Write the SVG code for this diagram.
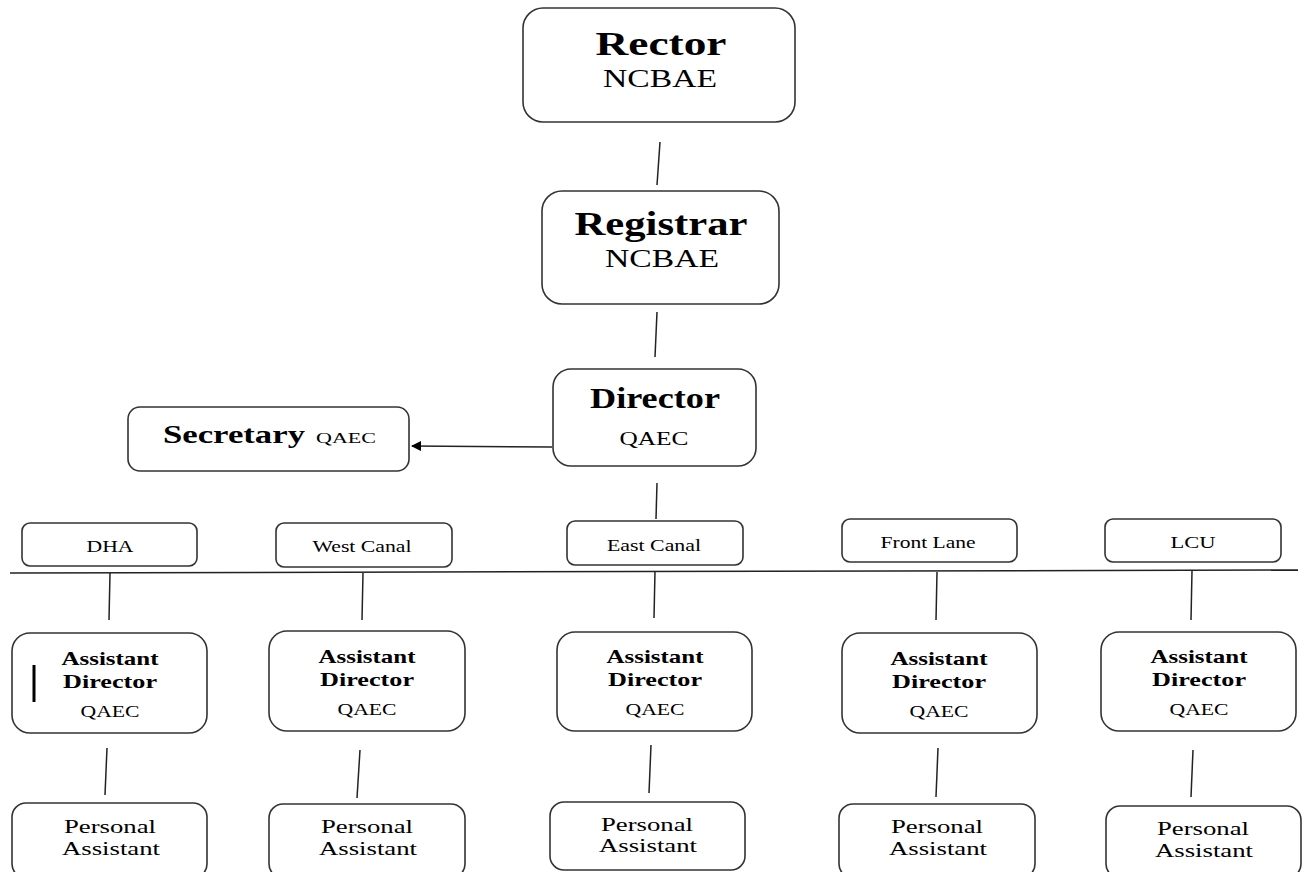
<svg xmlns="http://www.w3.org/2000/svg" width="1310" height="872" viewBox="0 0 1310 872">
<style>
.box{fill:#fff;stroke:#333;stroke-width:1.6}
.ln{stroke:#222;stroke-width:1.5;fill:none}
text{font-family:"Liberation Serif","Times New Roman",serif;fill:#000;text-anchor:middle}
.big{font-weight:bold;font-size:34px}
.org{font-size:25px}
.sm{font-size:17px}
.ad{font-weight:bold;font-size:19px}
.q{font-size:16px}
.pa{font-size:19px}
</style>
<defs>
<marker id="ah" markerWidth="10" markerHeight="10" refX="9" refY="5" orient="auto" markerUnits="userSpaceOnUse">
<path d="M0,0 L10,5 L0,10 Z" fill="#000"/>
</marker>
</defs>
<rect width="1310" height="872" fill="#fff"/>
<g id="connectors">
<line class="ln" x1="660" y1="142" x2="657" y2="185"/>
<line class="ln" x1="657" y1="312" x2="655" y2="357"/>
<line class="ln" x1="552" y1="447" x2="412" y2="446" marker-end="url(#ah)"/>
<line class="ln" x1="657" y1="483" x2="656" y2="519"/>
<line class="ln" x1="10" y1="573" x2="1298" y2="570"/>
<line class="ln" x1="110" y1="573" x2="109" y2="620"/>
<line class="ln" x1="363" y1="573" x2="362" y2="620"/>
<line class="ln" x1="655" y1="571" x2="654" y2="618"/>
<line class="ln" x1="937" y1="572" x2="936" y2="620"/>
<line class="ln" x1="1192" y1="571" x2="1191" y2="620"/>
<line class="ln" x1="107" y1="748" x2="105" y2="795"/>
<line class="ln" x1="360" y1="750" x2="357" y2="798"/>
<line class="ln" x1="651" y1="745" x2="649" y2="793"/>
<line class="ln" x1="938" y1="748" x2="936" y2="797"/>
<line class="ln" x1="1193" y1="750" x2="1191" y2="797"/>
</g>
<g id="rector">
<rect class="box" x="523" y="8" width="272" height="114" rx="20"/>
<text class="big" x="661" y="55" textLength="131" lengthAdjust="spacingAndGlyphs">Rector</text>
<text class="org" x="660" y="87" textLength="114" lengthAdjust="spacingAndGlyphs">NCBAE</text>
</g>
<g id="registrar">
<rect class="box" x="542" y="191" width="237" height="113" rx="20"/>
<text class="big" x="661" y="235" textLength="173" lengthAdjust="spacingAndGlyphs">Registrar</text>
<text class="org" x="662" y="267" textLength="114" lengthAdjust="spacingAndGlyphs">NCBAE</text>
</g>
<g id="director">
<rect class="box" x="553" y="369" width="203" height="97" rx="18"/>
<text class="big" x="655" y="408" style="font-size:29px" textLength="130" lengthAdjust="spacingAndGlyphs">Director</text>
<text x="654" y="445" style="font-size:19px" textLength="69" lengthAdjust="spacingAndGlyphs">QAEC</text>
</g>
<g id="secretary">
<rect class="box" x="128" y="407" width="281" height="64" rx="12"/>
<text x="163" y="443" style="text-anchor:start;font-weight:bold;font-size:25px" textLength="142" lengthAdjust="spacingAndGlyphs">Secretary</text>
<text x="316" y="443" style="text-anchor:start;font-size:15px" textLength="60" lengthAdjust="spacingAndGlyphs">QAEC</text>
</g>
<g id="dha">
<rect class="box" x="22" y="523" width="175" height="43" rx="8"/>
<text class="sm" x="110" y="552" textLength="47" lengthAdjust="spacingAndGlyphs">DHA</text>
</g>
<g id="westcanal">
<rect class="box" x="276" y="523" width="176" height="44" rx="8"/>
<text class="sm" x="362" y="552" textLength="99" lengthAdjust="spacingAndGlyphs">West Canal</text>
</g>
<g id="eastcanal">
<rect class="box" x="567" y="521" width="176" height="44" rx="8"/>
<text class="sm" x="654" y="551" textLength="94" lengthAdjust="spacingAndGlyphs">East Canal</text>
</g>
<g id="frontlane">
<rect class="box" x="842" y="519" width="175" height="43" rx="8"/>
<text class="sm" x="928" y="548" textLength="95" lengthAdjust="spacingAndGlyphs">Front Lane</text>
</g>
<g id="lcu">
<rect class="box" x="1105" y="519" width="176" height="43" rx="8"/>
<text class="sm" x="1193" y="548" textLength="45" lengthAdjust="spacingAndGlyphs">LCU</text>
</g>
<g id="ad1">
<rect class="box" x="12" y="633" width="195" height="100" rx="18"/>
<line x1="34" y1="665" x2="34" y2="702" stroke="#000" stroke-width="3"/>
<text class="ad" x="110" y="665" textLength="97" lengthAdjust="spacingAndGlyphs">Assistant</text>
<text class="ad" x="110" y="688" textLength="94" lengthAdjust="spacingAndGlyphs">Director</text>
<text class="q" x="110" y="717" textLength="59" lengthAdjust="spacingAndGlyphs">QAEC</text>
</g>
<g id="ad2">
<rect class="box" x="269" y="631" width="196" height="100" rx="18"/>
<text class="ad" x="367" y="663" textLength="97" lengthAdjust="spacingAndGlyphs">Assistant</text>
<text class="ad" x="367" y="686" textLength="94" lengthAdjust="spacingAndGlyphs">Director</text>
<text class="q" x="367" y="715" textLength="59" lengthAdjust="spacingAndGlyphs">QAEC</text>
</g>
<g id="ad3">
<rect class="box" x="557" y="632" width="195" height="99" rx="18"/>
<text class="ad" x="655" y="663" textLength="97" lengthAdjust="spacingAndGlyphs">Assistant</text>
<text class="ad" x="655" y="686" textLength="94" lengthAdjust="spacingAndGlyphs">Director</text>
<text class="q" x="655" y="715" textLength="59" lengthAdjust="spacingAndGlyphs">QAEC</text>
</g>
<g id="ad4">
<rect class="box" x="842" y="633" width="195" height="100" rx="18"/>
<text class="ad" x="939" y="665" textLength="97" lengthAdjust="spacingAndGlyphs">Assistant</text>
<text class="ad" x="939" y="688" textLength="94" lengthAdjust="spacingAndGlyphs">Director</text>
<text class="q" x="939" y="717" textLength="59" lengthAdjust="spacingAndGlyphs">QAEC</text>
</g>
<g id="ad5">
<rect class="box" x="1101" y="632" width="195" height="99" rx="18"/>
<text class="ad" x="1199" y="663" textLength="97" lengthAdjust="spacingAndGlyphs">Assistant</text>
<text class="ad" x="1199" y="686" textLength="94" lengthAdjust="spacingAndGlyphs">Director</text>
<text class="q" x="1199" y="715" textLength="59" lengthAdjust="spacingAndGlyphs">QAEC</text>
</g>
<g id="pa1">
<rect class="box" x="12" y="803" width="195" height="75" rx="14"/>
<text class="pa" x="110" y="833" textLength="92" lengthAdjust="spacingAndGlyphs">Personal</text>
<text class="pa" x="111" y="855" textLength="98" lengthAdjust="spacingAndGlyphs">Assistant</text>
</g>
<g id="pa2">
<rect class="box" x="269" y="804" width="196" height="74" rx="14"/>
<text class="pa" x="367" y="833" textLength="92" lengthAdjust="spacingAndGlyphs">Personal</text>
<text class="pa" x="368" y="855" textLength="98" lengthAdjust="spacingAndGlyphs">Assistant</text>
</g>
<g id="pa3">
<rect class="box" x="550" y="802" width="195" height="68" rx="14"/>
<text class="pa" x="647" y="831" textLength="92" lengthAdjust="spacingAndGlyphs">Personal</text>
<text class="pa" x="648" y="852" textLength="98" lengthAdjust="spacingAndGlyphs">Assistant</text>
</g>
<g id="pa4">
<rect class="box" x="839" y="804" width="196" height="74" rx="14"/>
<text class="pa" x="937" y="833" textLength="92" lengthAdjust="spacingAndGlyphs">Personal</text>
<text class="pa" x="938" y="855" textLength="98" lengthAdjust="spacingAndGlyphs">Assistant</text>
</g>
<g id="pa5">
<rect class="box" x="1106" y="806" width="195" height="72" rx="14"/>
<text class="pa" x="1203" y="835" textLength="92" lengthAdjust="spacingAndGlyphs">Personal</text>
<text class="pa" x="1204" y="857" textLength="98" lengthAdjust="spacingAndGlyphs">Assistant</text>
</g>
</svg>
